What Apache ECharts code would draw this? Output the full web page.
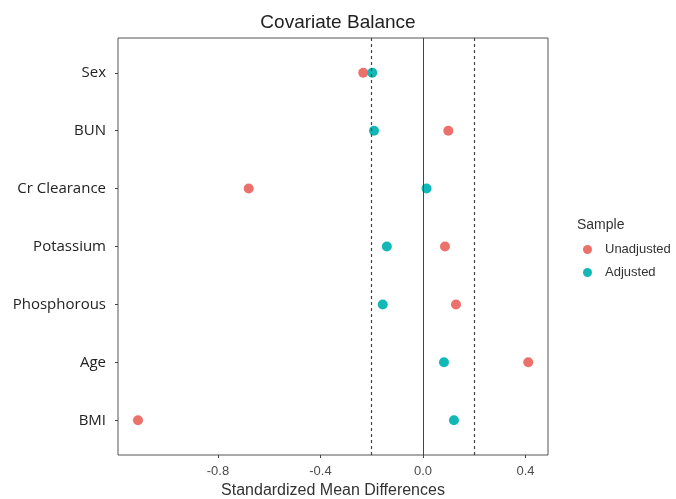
<!DOCTYPE html>
<html><head><meta charset="utf-8">
<script src="https://cdn.jsdelivr.net/npm/echarts@6/dist/echarts.min.js"></script>
<style>html,body{margin:0;padding:0;background:#fff}#c{width:676px;height:499px}</style>
</head><body><div id="c"></div>
<script>
const categories = ['Sex','BUN','Cr Clearance','Potassium','Phosphorous','Age','BMI'];
const unadjusted = [-0.233, 0.099, -0.680, 0.086, 0.129, 0.411, -1.112];
const adjusted = [-0.198, -0.191, 0.014, -0.141, -0.157, 0.082, 0.121];
const xTicks = [-0.8, -0.4, 0.0, 0.4];
const seriesNames = ['Unadjusted','Adjusted'];
const thresholds = [-0.2, 0.2];

const chart = echarts.init(document.getElementById('c'), null, {renderer:'canvas'});
const idx = categories.map((_, i) => i);
const toPts = arr => arr.map((v, i) => [v, i]);
const txt = "'Liberation Sans', Arial, sans-serif";
chart.setOption({
  animation: false,
  backgroundColor: '#fff',
  title: [
    {text: 'Covariate Balance', left: 333, top: 8, textAlign: 'center',
     textStyle: {fontFamily: txt, fontSize: 19, fontWeight: 'normal', color: '#222'}},
    {text: 'Sample', left: 572, top: 213,
     textStyle: {fontFamily: txt, fontSize: 14, fontWeight: 'normal', color: '#333'}}
  ],
  legend: {
    orient: 'vertical', left: 578, top: 238, itemGap: 10, icon: 'circle',
    itemWidth: 9, itemHeight: 9,
    textStyle: {fontFamily: txt, fontSize: 13, color: '#333', padding: [0,0,0,8]},
    data: seriesNames
  },
  grid: {left: 118, right: 128, top: 38, bottom: 44, show: true, containLabel: false,
         outerBoundsMode: 'none',
         borderColor: '#555', borderWidth: 1, backgroundColor: '#fff'},
  xAxis: {
    type: 'value', min: -1.19, max: 0.488,
    axisLine: {show: false, onZero: false},
    splitLine: {show: false},
    axisTick: {show: true, customValues: xTicks, length: 3, lineStyle: {color: '#444'}},
    axisLabel: {customValues: xTicks, formatter: v => v.toFixed(1), color: '#4d4d4d',
                fontFamily: txt, fontSize: 13, margin: 10},
    name: 'Standardized Mean Differences', nameLocation: 'middle', nameGap: 28,
    nameTextStyle: {fontFamily: txt, fontSize: 16, color: '#333'}
  },
  yAxis: {
    type: 'value', inverse: true, min: -0.6, max: 6.6,
    axisLine: {show: false, onZero: false},
    splitLine: {show: false},
    axisTick: {show: true, customValues: idx, length: 3, lineStyle: {color: '#444'}},
    axisLabel: {customValues: idx, formatter: v => categories[v], color: '#222',
                fontFamily: "'Open Sans', 'Noto Sans', sans-serif", fontSize: 15, margin: 12,
                padding: [0,0,7,0]}
  },
  series: [
    {name: seriesNames[0], type: 'scatter', symbolSize: 10, itemStyle: {color: '#EC716B', opacity: 1},
     data: toPts(unadjusted), z: 3,
     markLine: {silent: true, symbol: 'none', label: {show: false},
       data: [{xAxis: 0, lineStyle: {type: 'solid', color: '#444', width: 1}}]
         .concat(thresholds.map(t => ({xAxis: t, lineStyle: {type: [3,3], color: '#444', width: 1.2}})))}
    },
    {name: seriesNames[1], type: 'scatter', symbolSize: 10, itemStyle: {color: '#13B8B6', opacity: 1},
     data: toPts(adjusted), z: 4}
  ]
});
</script></body></html>
